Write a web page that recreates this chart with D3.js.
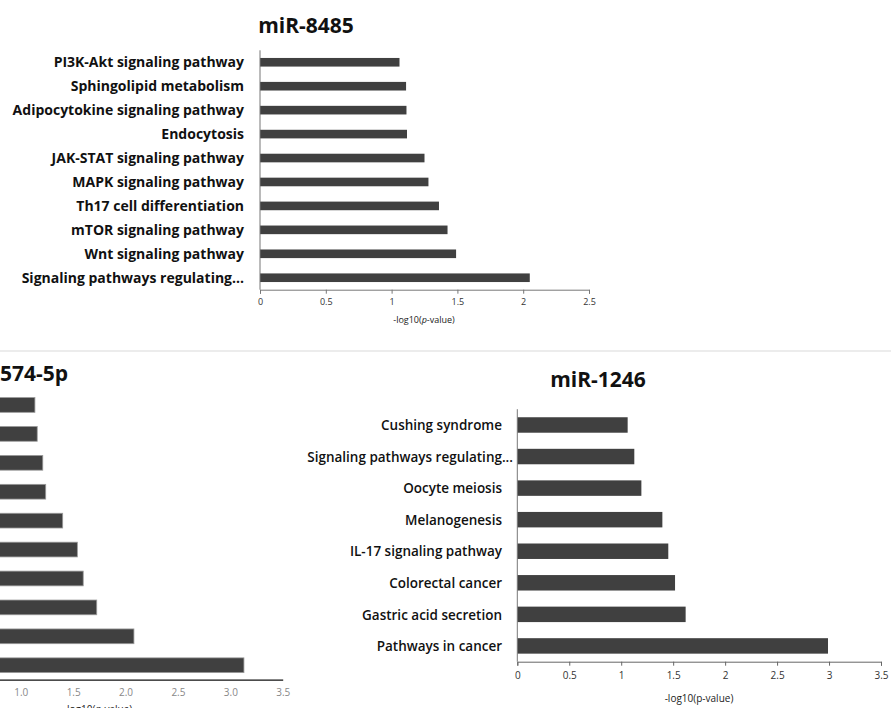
<!DOCTYPE html>
<html>
<head>
<meta charset="utf-8">
<script src="https://cdn.jsdelivr.net/npm/d3@7"></script>
<style>
  body { margin: 0; background: #fff; }
  svg { display: block; font-family: "Open Sans", sans-serif; }
</style>
</head>
<body>
<div id="chart"></div>
<script>
// miR-8485 (top)
var cats_8485 = ["PI3K-Akt signaling pathway", "Sphingolipid metabolism", "Adipocytokine signaling pathway",
  "Endocytosis", "JAK-STAT signaling pathway", "MAPK signaling pathway", "Th17 cell differentiation",
  "mTOR signaling pathway", "Wnt signaling pathway", "Signaling pathways regulating..."];
var vals_8485 = [1.06, 1.11, 1.113, 1.117, 1.25, 1.28, 1.36, 1.425, 1.49, 2.05];
var ticks_8485 = [0, 0.5, 1, 1.5, 2, 2.5];

// miR-574-5p (bottom left, its labels are cropped out of the picture)
var cats_574 = ["1", "2", "3", "4", "5", "6", "7", "8", "9", "10"];
var vals_574 = [1.135, 1.157, 1.21, 1.238, 1.40, 1.54, 1.596, 1.725, 2.08, 3.13];
var ticks_574 = [1.0, 1.5, 2.0, 2.5, 3.0, 3.5];

// miR-1246 (bottom right)
var cats_1246 = ["Cushing syndrome", "Signaling pathways regulating...", "Oocyte meiosis", "Melanogenesis",
  "IL-17 signaling pathway", "Colorectal cancer", "Gastric acid secretion", "Pathways in cancer"];
var vals_1246 = [1.062, 1.126, 1.194, 1.396, 1.453, 1.518, 1.62, 2.99];
var ticks_1246 = [0, 0.5, 1, 1.5, 2, 2.5, 3, 3.5];

var W = 891, H = 708;
var svg = d3.select("#chart").append("svg").attr("width", W).attr("height", H);

// faint separator between the two rows
svg.append("line").attr("x1", 0).attr("x2", W).attr("y1", 351).attr("y2", 351)
  .attr("stroke", "#e6e6e6").attr("stroke-width", 1.5);

function drawPanel(p) {
  var g = svg.append("g");
  var x = d3.scaleLinear().domain([0, p.max]).range([p.x0, p.x1]);
  var y = d3.scaleBand().domain(p.cats).range([p.y0, p.y1]).padding(0);
  var bh = y.bandwidth() * p.barFrac;

  g.selectAll("rect.bar").data(p.vals).enter().append("rect")
    .attr("class", "bar")
    .attr("x", x(0))
    .attr("y", function (d, i) { return y(p.cats[i]) + (y.bandwidth() - bh) / 2; })
    .attr("width", function (d) { return x(d) - x(0); })
    .attr("height", bh)
    .attr("fill", "#404040")
    .attr("stroke", p.barStroke || "none").attr("stroke-width", 0.8);

  // category labels
  if (p.showLabels) {
    g.selectAll("text.lab").data(p.cats).enter().append("text")
      .attr("class", "lab")
      .attr("transform", function (d) {
        // truncated labels run a bit past the others, as in the source
        var lx = p.labelX + (/\.\.\.$/.test(d) ? p.ellipsisShift : 0);
        return "translate(" + lx + "," + (y(d) + y.bandwidth() / 2) + ") scale(" + p.labelScale + ",1)";
      })
      .attr("text-anchor", "end").attr("dy", "0.35em")
      .style("font-size", p.labelSize + "px").style("font-weight", p.labelWeight)
      .style("fill", "#111")
      .text(function (d) { return d; });
  }

  // y axis line
  if (p.yAxis) {
    g.append("line").attr("x1", x(0)).attr("x2", x(0)).attr("y1", p.y0).attr("y2", p.y1)
      .attr("stroke", "#777").attr("stroke-width", 1);
  }

  // x axis
  var ax = g.append("g").attr("transform", "translate(0," + p.y1 + ")")
    .call(d3.axisBottom(x).tickValues(p.ticks).tickFormat(d3.format(p.fmt))
      .tickSize(p.tickLen).tickPadding(p.tickPad));
  ax.select(".domain").attr("stroke", p.axisColor).attr("stroke-width", p.axisWidth);
  ax.selectAll(".tick line").attr("stroke", p.axisColor);
  ax.selectAll(".tick text").style("font-size", p.tickSize + "px").style("fill", p.tickColor)
    .style("font-family", "Open Sans, sans-serif");

  // axis title
  var t = g.append("text").attr("x", p.axTitleX).attr("y", p.axTitleY)
    .attr("text-anchor", "middle").style("font-size", p.axTitleSize + "px").style("fill", "#222");
  t.append("tspan").text("-log10(");
  t.append("tspan").style("font-style", p.italicP ? "italic" : "normal").text("p");
  t.append("tspan").text("-value)");

  // panel title
  g.append("text").attr("x", p.titleX).attr("y", p.titleY).attr("text-anchor", p.titleAnchor)
    .style("font-size", "21px").style("font-weight", 700).style("fill", "#111")
    .text(p.title);
}

drawPanel({
  title: "miR-8485", titleX: 306, titleY: 33, titleAnchor: "middle",
  cats: cats_8485, vals: vals_8485, ticks: ticks_8485, max: 2.5, fmt: "",
  x0: 260, x1: 589, y0: 50.3, y1: 289.7, barFrac: 0.36,
  showLabels: true, labelX: 244, labelSize: 14, labelWeight: 700, labelScale: 1, ellipsisShift: 0,
  yAxis: true, tickLen: 4, tickPad: 5, axisColor: "#777", axisWidth: 1,
  tickSize: 9, tickColor: "#333",
  axTitleX: 424, axTitleY: 323, axTitleSize: 9, italicP: true
});

drawPanel({
  title: "miR-574-5p", titleX: 68, titleY: 381, titleAnchor: "end",
  cats: cats_574, vals: vals_574, ticks: ticks_574, max: 3.5, fmt: ".1f",
  x0: -84, x1: 282.7, y0: 390.5, y1: 679.7, barFrac: 0.51, barStroke: "#9a9a9a",
  showLabels: false, yAxis: false, tickLen: 0, tickPad: 9, axisColor: "#111", axisWidth: 1.2,
  tickSize: 10, tickColor: "#888",
  axTitleX: 98, axTitleY: 713, axTitleSize: 10, italicP: true
});

drawPanel({
  title: "miR-1246", titleX: 598, titleY: 387, titleAnchor: "middle",
  cats: cats_1246, vals: vals_1246, ticks: ticks_1246, max: 3.5, fmt: "",
  x0: 517.3, x1: 881, y0: 409.2, y1: 661.7, barFrac: 0.49,
  showLabels: true, labelX: 502, labelSize: 15, labelWeight: 600, labelScale: 0.9, ellipsisShift: 11,
  yAxis: true, tickLen: 4, tickPad: 6, axisColor: "#666", axisWidth: 1,
  tickSize: 10, tickColor: "#333",
  axTitleX: 699, axTitleY: 702, axTitleSize: 10, italicP: false
});
</script>
</body>
</html>
